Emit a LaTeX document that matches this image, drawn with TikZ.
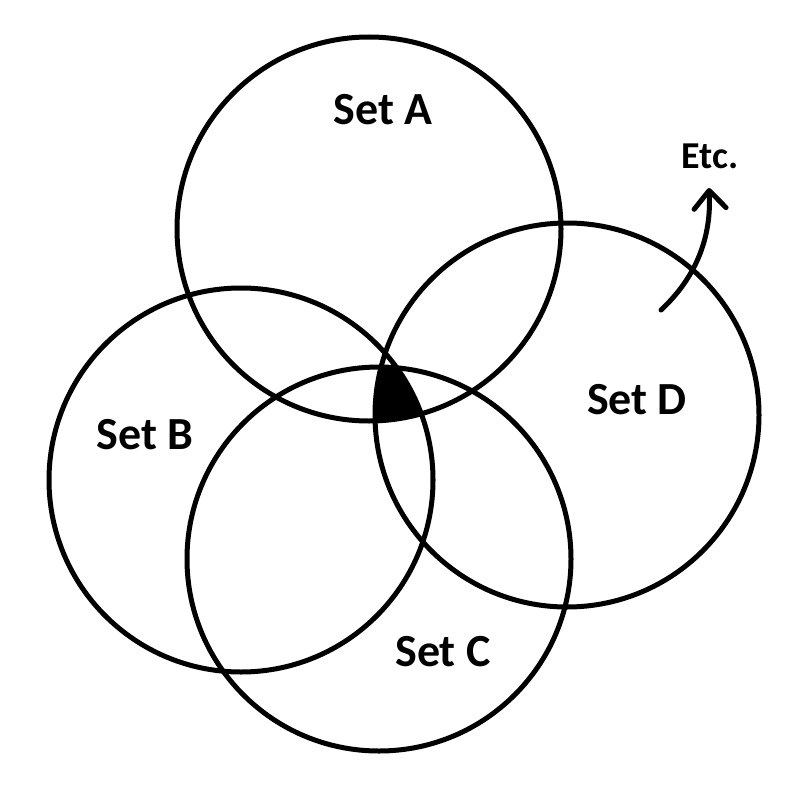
\documentclass[tikz,border=0pt]{standalone}
\usepackage{fontspec}
\setmainfont{Carlito}
\usetikzlibrary{arrows.meta}
\begin{document}
\begin{tikzpicture}[x=1pt,y=-1pt,
  setcircle/.style={draw=black,line width=5pt},
  setlabel/.style={font=\fontsize{46}{52}\selectfont\bfseries},
  etclabel/.style={font=\fontsize{38}{42}\selectfont\bfseries}]
\useasboundingbox (0,0) rectangle (800,800);
\coordinate (cA) at (369,229);
\coordinate (cB) at (241,480);
\coordinate (cC) at (379,559);
\coordinate (cD) at (567,415);
\begin{scope}
  \clip (cA) circle[radius=192];
  \clip (cB) circle[radius=192];
  \clip (cC) circle[radius=192];
  \fill[black] (cD) circle[radius=192];
\end{scope}
\draw[setcircle] (cA) circle[radius=192];
\draw[setcircle] (cB) circle[radius=192];
\draw[setcircle] (cC) circle[radius=192];
\draw[setcircle] (cD) circle[radius=192];
\node[setlabel] (lA) at (383,110) {Set A};
\node[setlabel] (lB) at (145,435) {Set B};
\node[setlabel] (lC) at (443,652) {Set C};
\node[setlabel] (lD) at (637,400) {Set D};
\node[etclabel] (etc) at (710,156) {Etc.};
\coordinate (arrS) at (661,310);
\coordinate (arrE) at (709,188);
\draw[line width=5pt,line cap=round,-{Straight Barb[length=18pt,width=32pt,line cap=round,round]}]
  (arrS) .. controls (690,283) and (712,245) .. (arrE);
\end{tikzpicture}
\end{document}
